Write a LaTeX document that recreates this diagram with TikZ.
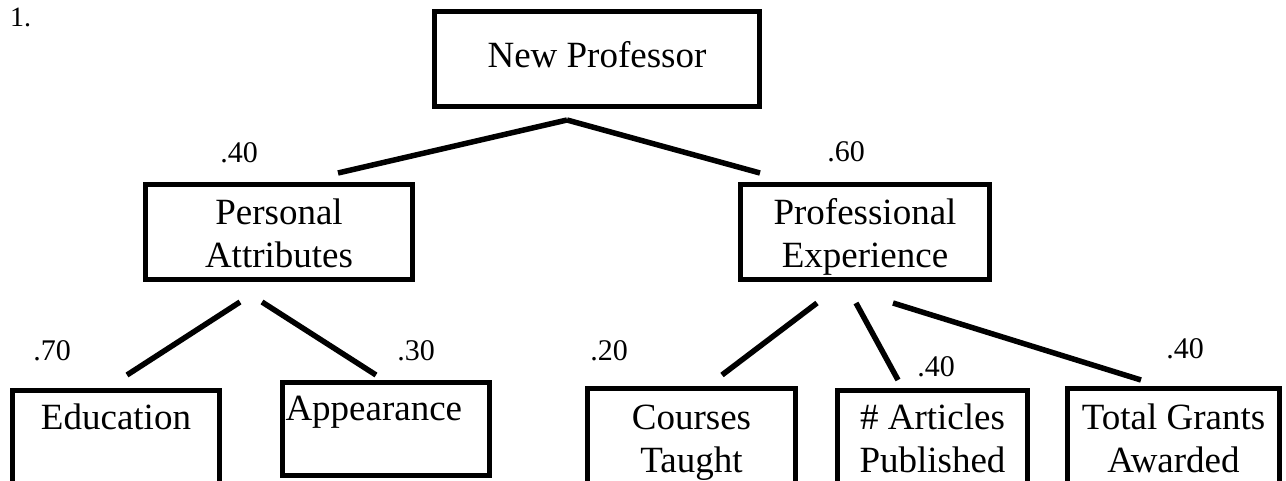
\documentclass[tikz,border=0pt]{standalone}
\usepackage{fontspec}
\setmainfont{Liberation Serif}

\tikzset{
  box/.style={draw, line width=5pt, inner sep=0pt, anchor=north, align=flush center,
              font=\fontsize{37}{43}\selectfont},
  weight/.style={anchor=base, inner sep=0pt, font=\fontsize{30}{36}\selectfont},
  link/.style={line width=5.5pt},
}

\begin{document}
\begin{tikzpicture}[x=1pt,y=-1pt]
  \useasboundingbox (0,0) rectangle (1286,481);

  \node[anchor=base west, inner sep=0pt, font=\fontsize{28}{32}\selectfont] (num) at (10,27) {1.};

  % goal, criteria and sub-criteria
  \node[box, text width=325pt, text height=55.5pt, text depth=39.5pt] (np) at (597,9.5) {New Professor};
  \node[box, text width=267pt, text height=39.5pt, text depth=55.5pt] (pa) at (279,182.5) {Personal\\Attributes};
  \node[box, text width=249pt, text height=39.5pt, text depth=55.5pt] (pe) at (865,182.5) {Professional\\Experience};
  \node[box, text width=207pt, text height=39.5pt, text depth=78pt] (edu) at (116,387.5) {Education};
  \node[box, align=flush left, inner xsep=3pt, text width=201pt, text height=38.5pt, text depth=54.5pt] (app) at (386,379.5) {Appearance};
  \node[box, text width=208pt, text height=41.5pt, text depth=78pt] (ct) at (691.5,385.5) {Courses\\Taught};
  \node[box, text width=190pt, text height=39.5pt, text depth=78pt] (ap) at (932.5,387.5) {\# Articles\\Published};
  \node[box, text width=212pt, text height=41.5pt, text depth=78pt] (tg) at (1173.5,385.5) {Total Grants\\Awarded};

  % weights
  \node[weight] (w_pa) at (239,163) {.40};
  \node[weight] (w_pe) at (846,162) {.60};
  \node[weight] (w_edu) at (52,360) {.70};
  \node[weight] (w_app) at (416,360) {.30};
  \node[weight] (w_ct) at (609,360) {.20};
  \node[weight] (w_ap) at (936,376) {.40};
  \node[weight] (w_tg) at (1185,359) {.40};

  \path[link]
    ([xshift=-30pt,yshift=-10.5pt]np.south) edge ([xshift=59pt,yshift=9.5pt]pa.north)
    ([xshift=-30pt,yshift=-10.5pt]np.south) edge ([xshift=-105pt,yshift=9.5pt]pe.north)
    ([xshift=-39pt,yshift=-19.5pt]pa.south) edge ([xshift=11pt,yshift=12.5pt]edu.north)
    ([xshift=-17pt,yshift=-19.5pt]pa.south) edge ([xshift=-10pt,yshift=4.5pt]app.north)
    ([xshift=-48pt,yshift=-20.5pt]pe.south) edge ([xshift=30.5pt,yshift=10.5pt]ct.north)
    ([xshift=-9pt,yshift=-20.5pt]pe.south)  edge ([xshift=-34.5pt,yshift=7.5pt]ap.north)
    ([xshift=28pt,yshift=-20.5pt]pe.south)  edge ([xshift=-32.5pt,yshift=5.5pt]tg.north);

\end{tikzpicture}
\end{document}
